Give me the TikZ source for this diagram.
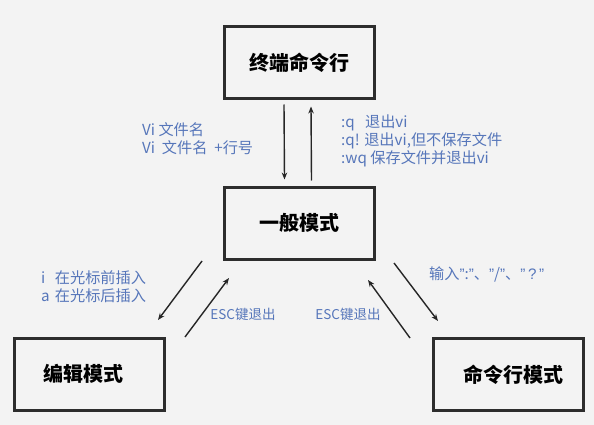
\documentclass[tikz,border=0pt]{standalone}
\usepackage{fontspec}
\setmainfont{Noto Sans CJK SC}
\newfontfamily\quotefont{Liberation Sans}
\usetikzlibrary{calc,positioning,arrows.meta}
\definecolor{labelblue}{RGB}{86,118,186}
\definecolor{bggray}{RGB}{243,243,243}
\definecolor{boxline}{RGB}{45,45,45}
\newcommand{\hq}{{\quotefont ”}}

\begin{document}
\begin{tikzpicture}
[x=1pt, y=-1pt,
mode/.style={rectangle, draw=boxline, line width=3pt, fill=bggray,
minimum width=150pt, minimum height=72pt,
font=\fontsize{20}{24}\selectfont\bfseries},
tip/.style={font=\fontsize{15.2}{18}\selectfont, text=labelblue,
align=left, inner sep=1pt, anchor=west},
esclab/.style={font=\fontsize{13.5}{16}\selectfont, text=labelblue, inner sep=1pt},
modearrow/.style={-{Stealth[length=7pt,width=5.5pt]}, line width=1.4pt, draw=black!85}]

% background
\path[fill=bggray] (0,0) rectangle (594,425);

% Draw modes
\node [mode] (term) at (299,63) {终端命令行};
\node [mode] (normal) at (299.5,223) {一般模式};
\node [mode] (edit) at (89.5,374) {\hspace*{-12pt}编辑模式};
\node [mode] (cmd) at (508.5,374.5) {\hspace*{9pt}命令行模式};

% Labels
\node [tip] (openlab) at (141,139) {Vi 文件名\\Vi \ 文件名 \ +行号};
\node [tip] (quitlab) at (340,140.5) {:q \ \ 退出vi\\:q! 退出vi,但不保存文件\\:wq 保存文件并退出vi};
\node [tip] (inslab) at (40,287) {\makebox[0.9em][l]{i}在光标前插入\\\makebox[0.9em][l]{a}在光标后插入};
\node [esclab] (escedit) at (243,314) {ESC键退出};
\node [esclab] (esccmd) at (348,314) {ESC键退出};
\node [tip] (cmdlab) at (428,274) {输入\hq:\hq、\hq/\hq、\hq\,{\quotefont ?}\,\hq};

% Draw transitions
\draw[modearrow] ($(term.south)+(-15,4)$) -- ($(normal.north)+(-15,-6)$);
\draw[modearrow] ($(normal.north)+(12,-5)$) -- ($(term.south)+(12,6)$);
\draw[modearrow] ($(normal.south west)+(-21,0.5)$) -- ($(edit.north east)+(-8,-16.5)$);
\draw[modearrow] ($(edit.north east)+(19,0.5)$) -- ($(normal.south west)+(6,17.5)$);
\draw[modearrow] ($(normal.south east)+(18,2.5)$) -- ($(cmd.north west)+(6,-16)$);
\draw[modearrow] ($(cmd.north west)+(-22,1)$) -- ($(normal.south east)+(-8,19.5)$);

\end{tikzpicture}
\end{document}
